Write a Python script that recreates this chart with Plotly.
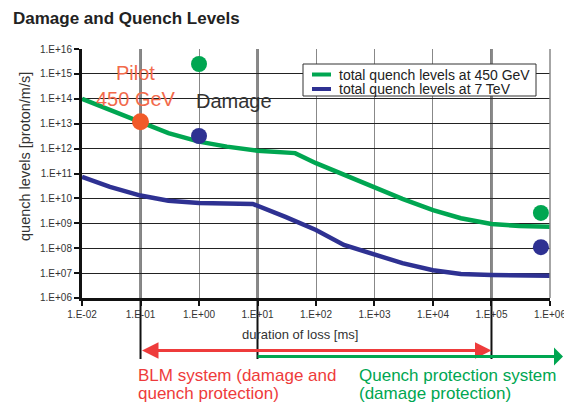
import plotly.graph_objects as go

duration_green = [0.01, 0.03, 0.1, 0.3, 1, 3, 10, 44, 100, 300, 1000, 3000, 1e4, 3e4, 1e5, 3e5, 1e6]
quench_450 = [1e14, 3.5e13, 1.2e13, 4.2e12, 1.9e12, 1.2e12, 8.2e11, 6.6e11, 2.6e11, 8.7e10, 2.9e10,
              9.5e9, 3.4e9, 1.6e9, 9.3e8, 7.8e8, 7.3e8]
duration_blue = [0.01, 0.03, 0.1, 0.3, 1, 8.3, 30, 100, 300, 1000, 3000, 1e4, 3e4, 1e5, 1e6]
quench_7tev = [7.4e10, 2.9e10, 1.3e10, 8.1e9, 6.5e9, 6.0e9, 1.8e9, 5.4e8, 1.35e8, 5.3e7, 2.5e7,
               1.3e7, 9.2e6, 8.4e6, 7.9e6]

damage_green_x = [1, 7e5]
damage_green_y = [2.5e15, 2.6e9]
damage_blue_x = [1, 7e5]
damage_blue_y = [3.2e12, 1.1e8]
pilot_x = [0.1]
pilot_y = [1.2e13]

series_names = ["total quench levels at 450 GeV", "total quench levels at 7 TeV"]
xtick_vals = [1e-2, 1e-1, 1e0, 1e1, 1e2, 1e3, 1e4, 1e5, 1e6]
xtick_text = ["1.E-02", "1.E-01", "1.E+00", "1.E+01", "1.E+02", "1.E+03", "1.E+04", "1.E+05", "1.E+06"]
ytick_vals = [10.0 ** k for k in range(6, 17)]
ytick_text = ["1.E+%02d" % k for k in range(6, 17)]

GREEN = "#00A651"
BLUE = "#2E3192"
ORANGE = "#F15A29"
RED = "#EE3B3B"
FONT = "Liberation Sans, Arial, sans-serif"

# page body adds an 8px offset; figure is sized/positioned to compensate
OFF = 8
W, H = 572 - OFF, 404 - OFF
PL, PT, PW, PH = 82, 49, 468, 249  # plot area in screen pixels


def px(x):
    return (x - PL) / PW


def py(y):
    return (PT + PH - y) / PH


fig = go.Figure()
fig.add_trace(go.Scatter(x=duration_green, y=quench_450, mode="lines", name=series_names[0],
                         line=dict(color=GREEN, width=4.5), showlegend=False))
fig.add_trace(go.Scatter(x=duration_blue, y=quench_7tev, mode="lines", name=series_names[1],
                         line=dict(color=BLUE, width=4.5), showlegend=False))
fig.add_trace(go.Scatter(x=damage_green_x, y=damage_green_y, mode="markers", showlegend=False,
                         marker=dict(color=GREEN, size=16), cliponaxis=False))
fig.add_trace(go.Scatter(x=damage_blue_x, y=damage_blue_y, mode="markers", showlegend=False,
                         marker=dict(color=BLUE, size=16), cliponaxis=False))
fig.add_trace(go.Scatter(x=pilot_x, y=pilot_y, mode="markers", showlegend=False,
                         marker=dict(color=ORANGE, size=17), cliponaxis=False))

# dark vertical markers at system boundaries, extending below the axis
for xv in [1e-1, 1e1, 1e5]:
    fig.add_shape(type="line", xref="x", yref="paper", x0=xv, x1=xv, y0=py(359), y1=1,
                  line=dict(color="#111", width=2), layer="below")

# right border line (gray)
fig.add_shape(type="line", xref="paper", yref="paper", x0=1, x1=1, y0=0, y1=1,
              line=dict(color="#888", width=1.5))

# legend box drawn manually
fig.add_shape(type="rect", xref="paper", yref="paper", x0=px(303), x1=px(536), y0=py(96), y1=py(64),
              fillcolor="white", line=dict(color="#333", width=1), layer="above")
for col, yy in [(GREEN, 74.5), (BLUE, 89)]:
    fig.add_shape(type="line", xref="paper", yref="paper", x0=px(312), x1=px(331), y0=py(yy), y1=py(yy),
                  line=dict(color=col, width=4), layer="above")

annotations = [
    dict(xref="paper", yref="paper", x=px(337), y=py(74.5), xanchor="left", yanchor="middle",
         text=series_names[0], showarrow=False, font=dict(family=FONT, size=14, color="#222")),
    dict(xref="paper", yref="paper", x=px(337), y=py(89), xanchor="left", yanchor="middle",
         text=series_names[1], showarrow=False, font=dict(family=FONT, size=14, color="#222")),
    dict(xref="x", yref="y", x=-1.07, y=14.5, text="Pilot<br>450 GeV", showarrow=False,
         font=dict(family=FONT, size=20, color="#F26A4B")),
    dict(xref="x", yref="y", x=-0.08, y=13.92, text="Damage", showarrow=False, xanchor="left",
         font=dict(family=FONT, size=20, color="#333")),
    # axis titles
    dict(xref="paper", yref="paper", x=px(300), y=py(334), xanchor="center", yanchor="middle",
         text="duration of loss [ms]", showarrow=False, font=dict(family=FONT, size=13, color="#333")),
    dict(xref="paper", yref="paper", x=px(25), y=py(157), xanchor="center", yanchor="middle",
         textangle=-90, text="quench levels [proton/m/s]", showarrow=False,
         font=dict(family=FONT, size=14.5, color="#333")),
    # red double arrow BLM
    dict(xref="x", yref="paper", x=5, y=py(350.5), axref="x", ax=-1, ayref="pixel", ay=0, text="",
         showarrow=True, arrowhead=2, arrowside="end+start", arrowsize=1.1, arrowwidth=3, arrowcolor=RED,
         standoff=0, startstandoff=0),
    # green arrow quench protection
    dict(xref="x", yref="paper", x=1, y=py(356.5), axref="pixel", ax=307, ayref="pixel", ay=0, text="",
         showarrow=True, arrowhead=2, arrowside="start", arrowsize=1.1, arrowwidth=3, arrowcolor=GREEN,
         standoff=0, startstandoff=0),
    dict(xref="paper", yref="paper", x=px(136), y=py(375), xanchor="left", yanchor="middle",
         text="BLM system (damage and", showarrow=False, font=dict(family=FONT, size=17, color=RED)),
    dict(xref="paper", yref="paper", x=px(136), y=py(393), xanchor="left", yanchor="middle",
         text="quench protection)", showarrow=False, font=dict(family=FONT, size=17, color=RED)),
    dict(xref="paper", yref="paper", x=px(357), y=py(375), xanchor="left", yanchor="middle",
         text="Quench protection system", showarrow=False, font=dict(family=FONT, size=17, color=GREEN)),
    dict(xref="paper", yref="paper", x=px(357), y=py(393), xanchor="left", yanchor="middle",
         text="(damage protection)", showarrow=False, font=dict(family=FONT, size=17, color=GREEN)),
]

fig.update_layout(
    width=W, height=H,
    margin=dict(l=PL - OFF, r=W - (PL - OFF) - PW, t=PT - OFF, b=H - (PT - OFF) - PH),
    paper_bgcolor="white", plot_bgcolor="white",
    font=dict(family=FONT, color="#333"),
    title=dict(text="<b>Damage and Quench Levels</b>", x=(13 - OFF) / W, xanchor="left",
               y=1 - (18 - OFF) / H, yanchor="middle", font=dict(family=FONT, size=17, color="#222")),
    showlegend=False,
    annotations=annotations,
)
fig.update_xaxes(type="log", range=[-2.0005, 6.0005], tickvals=xtick_vals, ticktext=xtick_text,
                 tickfont=dict(size=10, color="#333"), ticks="outside", ticklen=5, tickwidth=2, tickcolor="#111",
                 showline=True, linecolor="#111", linewidth=3, showgrid=True, gridcolor="#888", gridwidth=1,
                 zeroline=False, automargin=False)
fig.update_yaxes(type="log", range=[5.9995, 16.0005], tickvals=ytick_vals, ticktext=ytick_text,
                 tickfont=dict(size=10, color="#333"), ticks="outside", ticklen=5, tickwidth=2, tickcolor="#111",
                 showline=True, linecolor="#111", linewidth=3, showgrid=True, gridcolor="#222", gridwidth=1,
                 zeroline=False, automargin=False)

fig.write_html("out.html")
